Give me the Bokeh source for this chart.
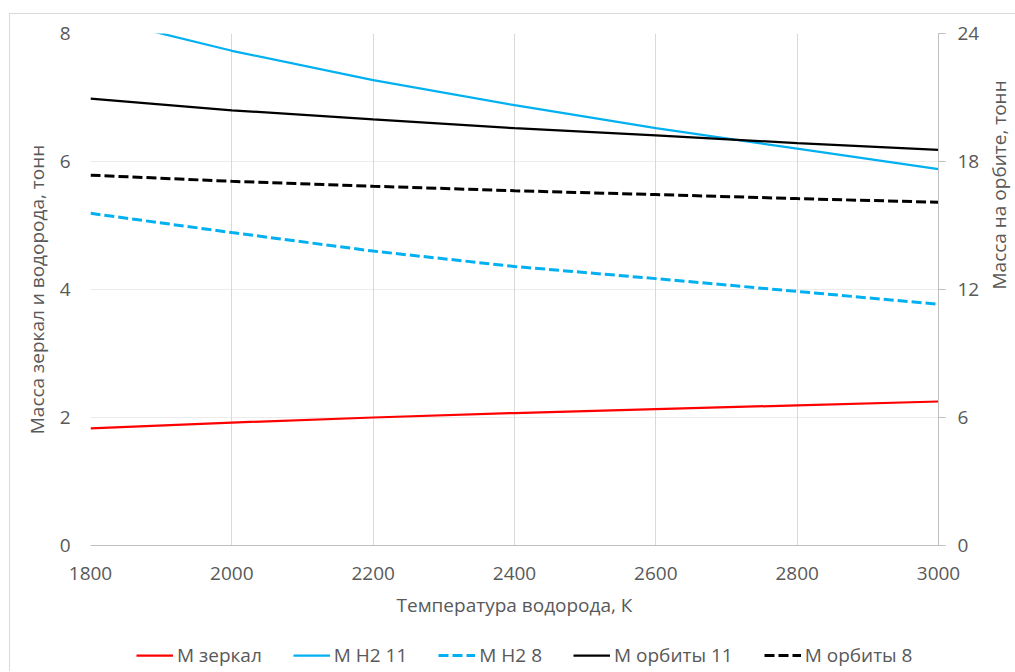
import math
from bokeh.plotting import figure
from bokeh.layouts import column
from bokeh.models import Range1d, LinearAxis, FixedTicker, Legend, LegendItem
from bokeh.embed import file_html
from bokeh.resources import INLINE

# ---- data ----
temperature = [1800, 2000, 2200, 2400, 2600, 2800, 3000]
m_mirror = [1.83, 1.92, 2.00, 2.07, 2.13, 2.19, 2.25]          # left axis
m_h2_11 = [8.27, 7.73, 7.27, 6.88, 6.52, 6.20, 5.88]           # left axis
m_h2_8 = [5.19, 4.89, 4.60, 4.36, 4.17, 3.97, 3.77]            # left axis
m_orbit_11 = [20.95, 20.40, 19.97, 19.56, 19.22, 18.86, 18.55]  # right axis
m_orbit_8 = [17.36, 17.07, 16.84, 16.63, 16.45, 16.26, 16.09]   # right axis

x_ticks = [1800, 2000, 2200, 2400, 2600, 2800, 3000]
left_ticks = [0, 2, 4, 6, 8]
right_ticks = [0, 6, 12, 18, 24]

series_names = ["М зеркал", "М Н2 11", "М Н2 8", "М орбиты 11", "М орбиты 8"]

FONT = "Open Sans"
FS = "19px"
TXT = "#595959"
GRID = "#D9D9D9"
AXIS = "#BFBFBF"

styles = [
    dict(line_color="#FF0000", line_width=2.25),
    dict(line_color="#00B0F0", line_width=2.25),
    dict(line_color="#00B0F0", line_width=3, line_dash="10 4"),
    dict(line_color="#000000", line_width=2.25),
    dict(line_color="#000000", line_width=3, line_dash="10 4"),
]
series = [m_mirror, m_h2_11, m_h2_8, m_orbit_11, m_orbit_8]
on_right = [False, False, False, True, True]

p = figure(
    frame_width=848, frame_height=512,
    x_range=Range1d(1800, 3000), y_range=Range1d(0, 8),
    output_backend="svg", toolbar_location=None,
    min_border_left=80, min_border_top=19, min_border_bottom=80, min_border_right=75,
)
p.outline_line_color = None
p.background_fill_color = "white"
p.border_fill_color = "white"

p.extra_y_ranges = {"right": Range1d(0, 24)}

# grids
p.xgrid.ticker = FixedTicker(ticks=x_ticks)
p.xgrid.grid_line_color = GRID
p.xgrid.grid_line_width = 1
p.ygrid.ticker = FixedTicker(ticks=left_ticks)
p.ygrid.grid_line_color = GRID
p.ygrid.grid_line_dash = "1 1"
p.ygrid.grid_line_width = 1

# x axis
xa = p.xaxis[0]
xa.ticker = FixedTicker(ticks=x_ticks)
xa.axis_label = "Температура водорода, К"
xa.axis_line_color = AXIS
xa.major_tick_out = 0
xa.major_tick_in = 0
xa.minor_tick_out = 0
xa.minor_tick_in = 0
xa.major_label_standoff = 21
xa.axis_label_standoff = 9

# left y axis
ya = p.yaxis[0]
ya.ticker = FixedTicker(ticks=left_ticks)
ya.axis_label = "Масса зеркал и водорода, тонн"
ya.axis_line_color = None
ya.major_tick_out = 0
ya.major_tick_in = 0
ya.minor_tick_out = 0
ya.minor_tick_in = 0
ya.major_label_standoff = 20
ya.axis_label_standoff = 7

# right y axis
ra = LinearAxis(y_range_name="right", ticker=FixedTicker(ticks=right_ticks),
                axis_label="Масса на орбите, тонн")
ra.axis_line_color = AXIS
ra.major_tick_line_color = AXIS
ra.major_tick_out = 7
ra.major_tick_in = 0
ra.minor_tick_out = 0
ra.minor_tick_in = 0
ra.major_label_standoff = 12
ra.major_label_text_align = "left"
ra.axis_label_standoff = 17
ra.axis_label_orientation = math.pi / 2
p.add_layout(ra, "right")

for ax in [xa, ya, ra]:
    ax.major_label_text_font = FONT
    ax.major_label_text_font_size = FS
    ax.major_label_text_color = TXT
    ax.axis_label_text_font = FONT
    ax.axis_label_text_font_size = FS
    ax.axis_label_text_font_style = "normal"
    ax.axis_label_text_color = TXT

# lines
for ys, st, rt in zip(series, styles, on_right):
    if rt:
        p.line(temperature, ys, y_range_name="right", **st)
    else:
        p.line(temperature, ys, **st)

# legend strip below the chart (its renderers lie outside its own view range,
# so only the legend entries are visible)
lg = figure(width=1003, height=46, x_range=Range1d(0, 1), y_range=Range1d(0, 1),
            x_axis_type=None, y_axis_type=None, output_backend="svg",
            toolbar_location=None, min_border=0)
lg.outline_line_color = None
lg.grid.visible = False
lg.background_fill_color = "white"
lg.border_fill_color = "white"
legend_renderers = [lg.line(temperature, ys, **st) for ys, st in zip(series, styles)]

legend = Legend(
    items=[LegendItem(label=n, renderers=[r]) for n, r in zip(series_names, legend_renderers)],
    orientation="horizontal",
    location=(46, 3),
    padding=0, margin=0, spacing=31,
    glyph_width=37, glyph_height=22, label_height=22, label_standoff=4,
    label_text_font=FONT, label_text_font_size=FS, label_text_color=TXT,
    border_line_color=None, background_fill_alpha=0,
)
lg.add_layout(legend)

layout = column(p, lg, spacing=0)
layout.styles = {
    "margin-top": "13px", "margin-left": "9px",
    "border-top": "1px solid #D9D9D9", "border-left": "1px solid #D9D9D9",
    "border-right": "1px solid #D9D9D9",
}

open("out.html", "w").write(file_html(layout, INLINE))
